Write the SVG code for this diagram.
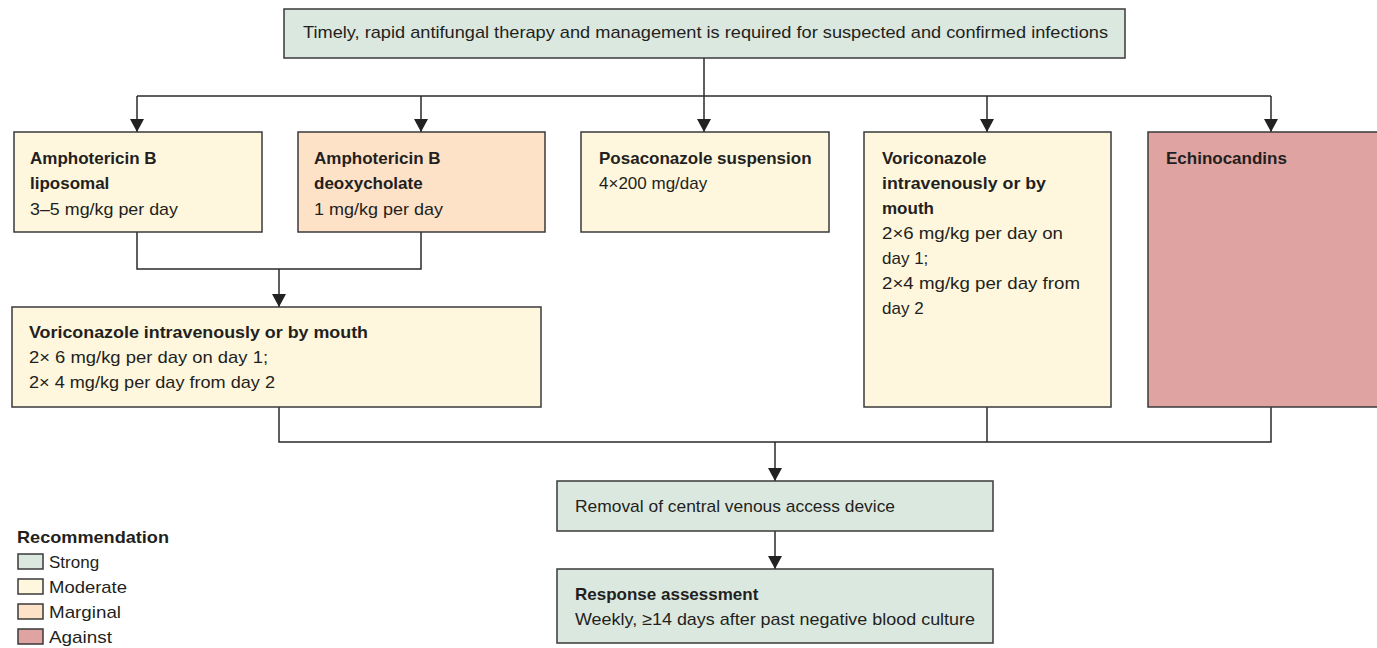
<svg xmlns="http://www.w3.org/2000/svg" width="1377" height="648" viewBox="0 0 1377 648">
<style>
.box{stroke:#3a3a3a;stroke-width:1.5}
.strong{fill:#dbe8df}
.mod{fill:#fef7dd}
.marg{fill:#fde2c8}
.against{fill:#dfa4a1}
text{font-family:"Liberation Sans",Arial,sans-serif;font-size:17px;fill:#231f20}
.b{font-weight:bold}
.conn{fill:none;stroke:#2a2a2a;stroke-width:1.5}
</style>
<defs>
<marker id="ah" markerWidth="13" markerHeight="14" refX="13" refY="7" orient="auto" markerUnits="userSpaceOnUse" viewBox="0 0 13 14">
<path d="M0,0 L13,7 L0,14 Z" fill="#222"/>
</marker>
</defs>
<g id="connectors">
<path class="conn" d="M704,58 V96"/>
<path class="conn" d="M137,96 H1271"/>
<path class="conn" d="M137,96 V132" marker-end="url(#ah)"/>
<path class="conn" d="M421,96 V132" marker-end="url(#ah)"/>
<path class="conn" d="M704,96 V132" marker-end="url(#ah)"/>
<path class="conn" d="M987,96 V132" marker-end="url(#ah)"/>
<path class="conn" d="M1271,96 V132" marker-end="url(#ah)"/>
<path class="conn" d="M137,232 V269 H421 V232"/>
<path class="conn" d="M279,269 V307" marker-end="url(#ah)"/>
<path class="conn" d="M279,407 V442 H1271 V407"/>
<path class="conn" d="M987,407 V442"/>
<path class="conn" d="M775,442 V481" marker-end="url(#ah)"/>
<path class="conn" d="M775,531 V569" marker-end="url(#ah)"/>
</g>
<g id="top">
<rect class="box strong" x="284" y="9" width="841" height="49"/>
<text x="303" y="38" textLength="805" lengthAdjust="spacingAndGlyphs">Timely, rapid antifungal therapy and management is required for suspected and confirmed infections</text>
</g>
<g id="amphoLipo">
<rect class="box mod" x="14" y="132" width="248" height="100"/>
<text class="b" x="30" y="164">Amphotericin B</text>
<text class="b" x="30" y="189">liposomal</text>
<text x="30" y="215" textLength="148" lengthAdjust="spacingAndGlyphs">3–5 mg/kg per day</text>
</g>
<g id="amphoDeoxy">
<rect class="box marg" x="298" y="132" width="247" height="100"/>
<text class="b" x="314" y="164">Amphotericin B</text>
<text class="b" x="314" y="189">deoxycholate</text>
<text x="314" y="215" textLength="129" lengthAdjust="spacingAndGlyphs">1 mg/kg per day</text>
</g>
<g id="posa">
<rect class="box mod" x="581" y="132" width="248" height="100"/>
<text class="b" x="599" y="164">Posaconazole suspension</text>
<text x="599" y="189">4×200 mg/day</text>
</g>
<g id="vori2">
<rect class="box mod" x="864" y="132" width="247" height="275"/>
<text class="b" x="882" y="164">Voriconazole</text>
<text class="b" x="882" y="189" textLength="164" lengthAdjust="spacingAndGlyphs">intravenously or by</text>
<text class="b" x="882" y="214">mouth</text>
<text x="882" y="239" textLength="181" lengthAdjust="spacingAndGlyphs">2×6 mg/kg per day on</text>
<text x="882" y="264">day 1;</text>
<text x="882" y="289" textLength="198" lengthAdjust="spacingAndGlyphs">2×4 mg/kg per day from</text>
<text x="882" y="314">day 2</text>
</g>
<g id="echino">
<rect class="box against" x="1148" y="132" width="235" height="275"/>
<text class="b" x="1166" y="164">Echinocandins</text>
</g>
<g id="vori1">
<rect class="box mod" x="12" y="307" width="529" height="100"/>
<text class="b" x="29" y="338" textLength="339" lengthAdjust="spacingAndGlyphs">Voriconazole intravenously or by mouth</text>
<text x="29" y="363" textLength="239" lengthAdjust="spacingAndGlyphs">2× 6 mg/kg per day on day 1;</text>
<text x="29" y="388" textLength="246" lengthAdjust="spacingAndGlyphs">2× 4 mg/kg per day from day 2</text>
</g>
<g id="removal">
<rect class="box strong" x="557" y="481" width="436" height="50"/>
<text x="575" y="512" textLength="320" lengthAdjust="spacingAndGlyphs">Removal of central venous access device</text>
</g>
<g id="response">
<rect class="box strong" x="557" y="569" width="436" height="74"/>
<text class="b" x="575" y="600">Response assessment</text>
<text x="575" y="625" textLength="400" lengthAdjust="spacingAndGlyphs">Weekly, ≥14 days after past negative blood culture</text>
</g>
<g id="legend">
<text class="b" x="17" y="543" textLength="152" lengthAdjust="spacingAndGlyphs">Recommendation</text>
<rect class="box strong" x="18" y="554" width="25" height="15"/>
<text x="49" y="568">Strong</text>
<rect class="box mod" x="18" y="579" width="25" height="15"/>
<text x="49" y="593" textLength="78" lengthAdjust="spacingAndGlyphs">Moderate</text>
<rect class="box marg" x="18" y="604" width="25" height="15"/>
<text x="49" y="618" textLength="72" lengthAdjust="spacingAndGlyphs">Marginal</text>
<rect class="box against" x="18" y="629" width="25" height="15"/>
<text x="49" y="643" textLength="63" lengthAdjust="spacingAndGlyphs">Against</text>
</g>
</svg>
